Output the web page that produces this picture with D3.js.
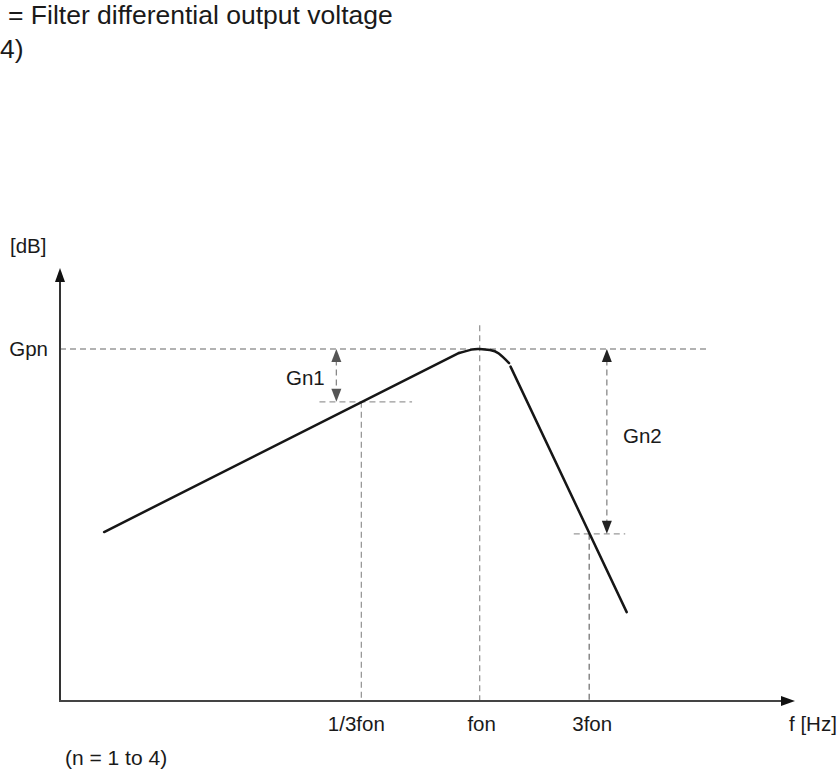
<!DOCTYPE html>
<html>
<head>
<meta charset="utf-8">
<script src="https://cdn.jsdelivr.net/npm/d3@7"></script>
<style>
  body { margin: 0; background: #fff; }
  text { font-family: "Liberation Sans", Arial, sans-serif; fill: #1a1a1a; }
</style>
</head>
<body>
<svg id="chart" width="840" height="775"></svg>
<script>
// relative frequency units on x (0..100), gain in dB on y
var tickLabels = ["1/3fon", "fon", "3fon"];
var tickValues = [41, 57.1, 72];
var riseLine = [[6, 19.2], [54.3, 39.55]];
var peakCurve = [[54.3, 39.55], [56, 39.93], [57.1, 40], [58.5, 39.88], [59.7, 39.5], [61.1, 38.4]];
var fallLine = [[61.3, 38.0], [77.1, 10.1]];
var gpn = 40, gn1Level = 34, gn2Level = 19;
var xMax = 100, yMax = 49.2;

var svg = d3.select("#chart");

var x = d3.scaleLinear().domain([0, 100]).range([60, 795]);
var y = d3.scaleLinear().domain([0, 50]).range([701, 261]);

var dashColor = "#999";
// labels sit a little off their guide lines in the original
var labelShift = [-5, 2, 3];

function dashed(x1, y1, x2, y2, color) {
  svg.append("line")
    .attr("x1", x(x1)).attr("y1", y(y1))
    .attr("x2", x(x2)).attr("y2", y(y2))
    .attr("stroke", color || dashColor)
    .attr("stroke-width", 1.3)
    .attr("stroke-dasharray", "6,4");
}

// arrow head, tip at data point
function head(px, py, dir, color) {
  var tx = x(px), ty = y(py), s = dir == "up" ? 1 : -1;
  svg.append("path")
    .attr("d", "M" + tx + "," + ty + "L" + (tx - 5) + "," + (ty + s * 13) + "L" + (tx + 5) + "," + (ty + s * 13) + "Z")
    .attr("fill", color);
}

// guide lines
dashed(0, gpn, 88.2, gpn);
dashed(tickValues[1], 42.7, tickValues[1], 0);
dashed(35.3, gn1Level, 47.9, gn1Level);
dashed(tickValues[0], gn1Level, tickValues[0], 0);
dashed(69.9, gn2Level, 76.9, gn2Level);
dashed(tickValues[2], gn2Level, tickValues[2], 0, "#777");

// Gn1 / Gn2 span arrows
dashed(37.6, gpn - 1.2, 37.6, gn1Level + 1.2, "#888");
head(37.6, gpn, "up", "#555");
head(37.6, gn1Level, "down", "#555");
dashed(74.4, gpn - 1.2, 74.4, gn2Level + 1.2, "#888");
head(74.4, gpn, "up", "#222");
head(74.4, gn2Level, "down", "#222");

// axes
svg.append("line")
  .attr("x1", x(0)).attr("y1", y(0)).attr("x2", x(0)).attr("y2", y(yMax) + 10)
  .attr("stroke", "#333").attr("stroke-width", 2);
svg.append("line")
  .attr("x1", x(0) - 1).attr("y1", y(0)).attr("x2", x(xMax) - 10).attr("y2", y(0))
  .attr("stroke", "#444").attr("stroke-width", 2.2);
svg.append("path")
  .attr("d", "M" + x(0) + "," + y(yMax) + "l-5,14l10,0Z")
  .attr("fill", "#111");
svg.append("path")
  .attr("d", "M" + x(xMax) + "," + y(0) + "l-14,-5l0,10Z")
  .attr("fill", "#111");

// response curve
var line = d3.line().x(function(d) { return x(d[0]); }).y(function(d) { return y(d[1]); });
[riseLine, fallLine].forEach(function(seg) {
  svg.append("path").attr("d", line(seg))
    .attr("fill", "none").attr("stroke", "#161616")
    .attr("stroke-width", 2.5).attr("stroke-linecap", "round");
});
svg.append("path").attr("d", line.curve(d3.curveNatural)(peakCurve))
  .attr("fill", "none").attr("stroke", "#161616")
  .attr("stroke-width", 2.5).attr("stroke-linecap", "round");

// tick labels
svg.selectAll(".tick-label")
  .data(tickLabels)
  .enter().append("text")
  .attr("class", "tick-label")
  .attr("x", function(d, i) { return x(tickValues[i]) + labelShift[i]; })
  .attr("y", 731)
  .attr("text-anchor", "middle")
  .attr("font-size", 20.5)
  .text(function(d) { return d; });

svg.append("text").attr("x", 789).attr("y", 731).attr("font-size", 20.5).text("f [Hz]");
svg.append("text").attr("x", 10).attr("y", 253).attr("font-size", 20.5).text("[dB]");
svg.append("text").attr("x", 48).attr("y", y(gpn) + 7).attr("text-anchor", "end").attr("font-size", 20.5).text("Gpn");
svg.append("text").attr("x", 286).attr("y", 385).attr("font-size", 20.5).text("Gn1");
svg.append("text").attr("x", 623).attr("y", 443).attr("font-size", 20.5).text("Gn2");

// header and note
svg.append("text").attr("x", 8).attr("y", 24).attr("font-size", 26.5).text("= Filter differential output voltage");
svg.append("text").attr("x", 0).attr("y", 58).attr("font-size", 26.5).text("4)");
svg.append("text").attr("x", 65).attr("y", 765).attr("font-size", 21).text("(n = 1 to 4)");
</script>
</body>
</html>
